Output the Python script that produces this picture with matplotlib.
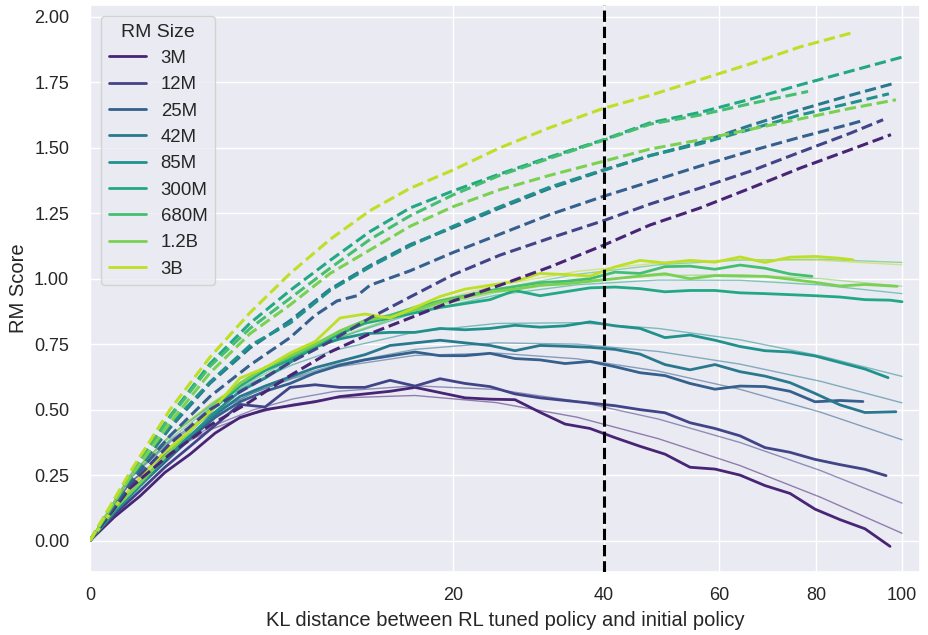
import numpy as np
import matplotlib
matplotlib.use("Agg")
import matplotlib.pyplot as plt
from matplotlib.lines import Line2D
from matplotlib.ticker import FormatStrFormatter
import seaborn as sns

sns.set_theme(style="darkgrid")
plt.rcParams["font.family"] = ["Liberation Sans", "DejaVu Sans"]

rm_sizes = ["3M", "12M", "25M", "42M", "85M", "300M", "680M", "1.2B", "3B"]

# ---------------- gold RM score (solid, noisy) ----------------
gold_kl_3m = [0, 0.09, 0.38, 0.85, 1.52, 2.37, 3.41, 4.65, 6.07, 7.68, 9.48, 11.47, 13.65, 16.02, 18.58, 21.33, 24.27, 27.39, 30.71, 34.22, 37.92, 41.80, 45.88, 50.14, 54.60, 59.24, 64.08, 69.10, 74.32, 79.72, 85.31, 91.09, 97.07]
gold_3m = [0, 0.09, 0.17, 0.26, 0.33, 0.41, 0.47, 0.50, 0.515, 0.53, 0.55, 0.56, 0.57, 0.585, 0.565, 0.545, 0.54, 0.538, 0.49, 0.445, 0.428, 0.393, 0.36, 0.33, 0.28, 0.273, 0.25, 0.21, 0.18, 0.12, 0.08, 0.045, -0.022]

gold_kl_12m = [0, 0.09, 0.38, 0.85, 1.52, 2.37, 3.41, 4.65, 6.07, 7.68, 9.48, 11.47, 13.65, 16.02, 18.58, 21.33, 24.27, 27.39, 30.71, 34.22, 37.92, 41.80, 45.88, 50.14, 54.60, 59.24, 64.08, 69.10, 74.32, 79.72, 85.31, 91.09, 96.1]
gold_12m = [0, 0.10, 0.19, 0.28, 0.36, 0.44, 0.52, 0.51, 0.585, 0.595, 0.585, 0.585, 0.612, 0.59, 0.618, 0.60, 0.588, 0.56, 0.545, 0.535, 0.525, 0.515, 0.50, 0.488, 0.45, 0.428, 0.40, 0.355, 0.337, 0.31, 0.29, 0.272, 0.248]

gold_kl_25m = [0, 0.09, 0.38, 0.85, 1.52, 2.37, 3.41, 4.65, 6.07, 7.68, 9.48, 11.47, 13.65, 16.02, 18.58, 21.33, 24.27, 27.39, 30.71, 34.22, 37.92, 41.80, 45.88, 50.14, 54.60, 59.24, 64.08, 69.10, 74.32, 79.72, 85.31, 90.6]
gold_25m = [0, 0.11, 0.21, 0.30, 0.39, 0.47, 0.53, 0.57, 0.60, 0.64, 0.67, 0.69, 0.705, 0.72, 0.706, 0.706, 0.715, 0.695, 0.69, 0.676, 0.684, 0.664, 0.641, 0.630, 0.60, 0.578, 0.59, 0.588, 0.57, 0.53, 0.535, 0.531]

gold_kl_42m = [0, 0.09, 0.38, 0.85, 1.52, 2.37, 3.41, 4.65, 6.07, 7.68, 9.48, 11.47, 13.65, 16.02, 18.58, 21.33, 24.27, 27.39, 30.71, 34.22, 37.92, 41.80, 45.88, 50.14, 54.60, 59.24, 64.08, 69.10, 74.32, 79.72, 85.31, 91.09, 98.5]
gold_42m = [0, 0.11, 0.21, 0.31, 0.40, 0.48, 0.55, 0.59, 0.625, 0.66, 0.685, 0.71, 0.745, 0.755, 0.765, 0.755, 0.745, 0.725, 0.745, 0.742, 0.738, 0.730, 0.712, 0.672, 0.652, 0.672, 0.645, 0.628, 0.603, 0.562, 0.518, 0.489, 0.492]

gold_kl_85m = [0, 0.09, 0.38, 0.85, 1.52, 2.37, 3.41, 4.65, 6.07, 7.68, 9.48, 11.47, 13.65, 16.02, 18.58, 21.33, 24.27, 27.39, 30.71, 34.22, 37.92, 41.80, 45.88, 50.14, 54.60, 59.24, 64.08, 69.10, 74.32, 79.72, 85.31, 91.09, 96.6]
gold_85m = [0, 0.11, 0.21, 0.31, 0.40, 0.49, 0.57, 0.62, 0.68, 0.74, 0.77, 0.79, 0.795, 0.795, 0.81, 0.805, 0.81, 0.822, 0.815, 0.82, 0.835, 0.82, 0.81, 0.775, 0.785, 0.765, 0.741, 0.725, 0.72, 0.705, 0.68, 0.655, 0.622]

gold_kl_300m = [0, 0.09, 0.38, 0.85, 1.52, 2.37, 3.41, 4.65, 6.07, 7.68, 9.48, 11.47, 13.65, 16.02, 18.58, 21.33, 24.27, 27.39, 30.71, 34.22, 37.92, 41.80, 45.88, 50.14, 54.60, 59.24, 64.08, 69.10, 74.32, 79.72, 85.31, 91.09, 97.07, 100.0]
gold_300m = [0, 0.12, 0.22, 0.32, 0.42, 0.51, 0.59, 0.65, 0.69, 0.74, 0.79, 0.83, 0.85, 0.87, 0.89, 0.905, 0.92, 0.955, 0.935, 0.95, 0.965, 0.968, 0.962, 0.95, 0.955, 0.955, 0.946, 0.943, 0.939, 0.935, 0.93, 0.92, 0.918, 0.912]

gold_kl_680m = [0, 0.09, 0.38, 0.85, 1.52, 2.37, 3.41, 4.65, 6.07, 7.68, 9.48, 11.47, 13.65, 16.02, 18.58, 21.33, 24.27, 27.39, 30.71, 34.22, 37.92, 41.80, 45.88, 50.14, 54.60, 59.24, 64.08, 69.10, 74.32, 79.06]
gold_680m = [0, 0.12, 0.22, 0.32, 0.42, 0.52, 0.60, 0.66, 0.70, 0.745, 0.80, 0.84, 0.86, 0.89, 0.915, 0.935, 0.955, 0.97, 0.985, 0.99, 1.0, 1.025, 1.02, 1.046, 1.048, 1.036, 1.052, 1.04, 1.018, 1.009]

gold_kl_1_2b = [0, 0.09, 0.38, 0.85, 1.52, 2.37, 3.41, 4.65, 6.07, 7.68, 9.48, 11.47, 13.65, 16.02, 18.58, 21.33, 24.27, 27.39, 30.71, 34.22, 37.92, 41.80, 45.88, 50.14, 54.60, 59.24, 64.08, 69.10, 74.32, 79.72, 85.31, 91.09, 98.8]
gold_1_2b = [0, 0.12, 0.22, 0.32, 0.42, 0.52, 0.60, 0.66, 0.705, 0.75, 0.80, 0.84, 0.855, 0.88, 0.91, 0.93, 0.95, 0.96, 0.975, 0.98, 0.99, 1.0, 1.01, 1.019, 1.0, 1.012, 1.01, 1.009, 0.998, 0.986, 0.972, 0.978, 0.971]

gold_kl_3b = [0, 0.09, 0.38, 0.85, 1.52, 2.37, 3.41, 4.65, 6.07, 7.68, 9.48, 11.47, 13.65, 16.02, 18.58, 21.33, 24.27, 27.39, 30.71, 34.22, 37.92, 41.80, 45.88, 50.14, 54.60, 59.24, 64.08, 69.10, 74.32, 79.72, 85.31, 88.3]
gold_3b = [0, 0.13, 0.24, 0.34, 0.42, 0.51, 0.62, 0.66, 0.716, 0.76, 0.85, 0.865, 0.85, 0.89, 0.932, 0.96, 0.975, 0.99, 1.02, 1.016, 1.01, 1.045, 1.07, 1.06, 1.07, 1.063, 1.083, 1.062, 1.082, 1.085, 1.078, 1.072]

# ---------------- proxy RM score (dashed) ----------------
proxy_kl_3m = [0, 0.24, 0.97, 2.18, 3.88, 6.07, 8.74, 11.89, 15.53, 19.99, 25.49, 32.09, 39.92, 47.56, 56.43, 66.07, 76.45, 87.60, 97.3]
proxy_3m = [0, 0.20, 0.33, 0.44, 0.53, 0.63, 0.72, 0.79, 0.85, 0.915, 0.975, 1.045, 1.127, 1.205, 1.27, 1.345, 1.422, 1.492, 1.55]

proxy_kl_12m = [0, 0.24, 0.97, 2.18, 3.88, 6.07, 8.74, 11.89, 15.53, 19.99, 25.49, 32.09, 39.92, 47.56, 56.43, 66.07, 76.45, 87.60, 95.4]
proxy_12m = [0, 0.21, 0.37, 0.50, 0.59, 0.68, 0.76, 0.85, 0.93, 1.015, 1.09, 1.155, 1.221, 1.285, 1.346, 1.41, 1.483, 1.555, 1.607]

proxy_kl_25m = [0, 0.24, 0.97, 2.18, 3.88, 6.07, 7.68, 9.25, 10.81, 11.89, 15.53, 19.99, 25.49, 32.09, 39.92, 47.56, 56.43, 66.07, 76.45, 87.60, 90.6]
proxy_25m = [0, 0.22, 0.40, 0.55, 0.67, 0.775, 0.86, 0.915, 0.935, 0.975, 1.03, 1.10, 1.17, 1.245, 1.314, 1.37, 1.43, 1.487, 1.54, 1.59, 1.604]

proxy_kl_42m = [0, 0.24, 0.97, 2.18, 3.88, 6.07, 8.74, 11.89, 15.53, 19.99, 25.49, 32.09, 39.92, 47.56, 56.43, 66.07, 76.45, 87.60, 98.3]
proxy_42m = [0, 0.23, 0.43, 0.60, 0.735, 0.84, 0.96, 1.05, 1.13, 1.195, 1.27, 1.345, 1.413, 1.47, 1.52, 1.585, 1.645, 1.70, 1.747]

proxy_kl_85m = [0, 0.24, 0.97, 2.18, 3.88, 6.07, 8.74, 11.89, 15.53, 19.99, 25.49, 32.09, 39.92, 47.56, 56.43, 66.07, 76.45, 87.60, 96.8]
proxy_85m = [0, 0.235, 0.44, 0.605, 0.745, 0.83, 0.955, 1.045, 1.125, 1.20, 1.275, 1.35, 1.415, 1.47, 1.515, 1.57, 1.625, 1.67, 1.706]

proxy_kl_300m = [0, 0.24, 0.97, 2.18, 3.88, 6.07, 8.74, 11.89, 15.53, 19.99, 25.49, 32.09, 39.92, 47.56, 56.43, 66.07, 76.45, 87.60, 100.0]
proxy_300m = [0, 0.25, 0.475, 0.675, 0.83, 0.955, 1.07, 1.18, 1.27, 1.335, 1.40, 1.465, 1.53, 1.595, 1.635, 1.685, 1.74, 1.792, 1.846]

proxy_kl_680m = [0, 0.24, 0.97, 2.18, 3.88, 6.07, 8.74, 11.89, 15.53, 19.99, 25.49, 32.09, 39.92, 47.56, 56.43, 66.07, 78.2]
proxy_680m = [0, 0.25, 0.47, 0.665, 0.81, 0.925, 1.04, 1.15, 1.24, 1.32, 1.395, 1.46, 1.528, 1.59, 1.625, 1.668, 1.715]

proxy_kl_1_2b = [0, 0.24, 0.97, 2.18, 3.88, 6.07, 8.74, 11.89, 15.53, 19.99, 25.49, 32.09, 39.92, 47.56, 56.43, 66.07, 76.45, 87.60, 98.5]
proxy_1_2b = [0, 0.24, 0.45, 0.64, 0.79, 0.90, 1.02, 1.11, 1.20, 1.275, 1.34, 1.395, 1.448, 1.495, 1.53, 1.57, 1.61, 1.65, 1.683]

proxy_kl_3b = [0, 0.24, 0.97, 2.18, 3.88, 6.07, 8.74, 11.89, 15.53, 19.99, 25.49, 32.09, 39.92, 47.56, 56.43, 66.07, 76.45, 88.3]
proxy_3b = [0, 0.26, 0.50, 0.70, 0.87, 1.02, 1.15, 1.26, 1.345, 1.415, 1.50, 1.577, 1.65, 1.70, 1.76, 1.82, 1.885, 1.94]

# ---------------- fitted gold curves (thin) ----------------
fit_kl = [0, 0.25, 1, 2.25, 4, 6.25, 9, 16, 25, 36, 49, 64, 81, 100]
fit_3m = [0, 0.223, 0.344, 0.426, 0.483, 0.521, 0.544, 0.554, 0.527, 0.471, 0.389, 0.287, 0.165, 0.028]
fit_12m = [0, 0.225, 0.350, 0.436, 0.498, 0.541, 0.569, 0.591, 0.577, 0.532, 0.464, 0.375, 0.267, 0.143]
fit_25m = [0, 0.245, 0.386, 0.487, 0.563, 0.619, 0.661, 0.707, 0.716, 0.694, 0.647, 0.578, 0.490, 0.385]
fit_42m = [0, 0.239, 0.379, 0.483, 0.562, 0.623, 0.670, 0.730, 0.755, 0.750, 0.722, 0.674, 0.608, 0.526]
fit_85m = [0, 0.254, 0.405, 0.517, 0.604, 0.672, 0.726, 0.796, 0.829, 0.832, 0.810, 0.767, 0.705, 0.627]
fit_300m = [0, 0.248, 0.403, 0.523, 0.621, 0.701, 0.768, 0.869, 0.937, 0.977, 0.995, 0.994, 0.976, 0.943]
fit_680m = [0, 0.239, 0.391, 0.512, 0.611, 0.695, 0.766, 0.879, 0.960, 1.017, 1.053, 1.071, 1.074, 1.062]
fit_1_2b = [0, 0.248, 0.404, 0.525, 0.623, 0.704, 0.772, 0.877, 0.947, 0.991, 1.012, 1.015, 1.000, 0.971]
fit_3b = [0, 0.246, 0.403, 0.526, 0.627, 0.711, 0.783, 0.895, 0.974, 1.028, 1.060, 1.073, 1.070, 1.053]

x_ticks = [0, 20, 40, 60, 80, 100]
y_ticks = [0.0, 0.25, 0.5, 0.75, 1.0, 1.25, 1.5, 1.75, 2.0]
kl_marker = 40

gold_x = [gold_kl_3m, gold_kl_12m, gold_kl_25m, gold_kl_42m, gold_kl_85m, gold_kl_300m, gold_kl_680m, gold_kl_1_2b, gold_kl_3b]
gold_y = [gold_3m, gold_12m, gold_25m, gold_42m, gold_85m, gold_300m, gold_680m, gold_1_2b, gold_3b]
proxy_x = [proxy_kl_3m, proxy_kl_12m, proxy_kl_25m, proxy_kl_42m, proxy_kl_85m, proxy_kl_300m, proxy_kl_680m, proxy_kl_1_2b, proxy_kl_3b]
proxy_y = [proxy_3m, proxy_12m, proxy_25m, proxy_42m, proxy_85m, proxy_300m, proxy_680m, proxy_1_2b, proxy_3b]
fit_y = [fit_3m, fit_12m, fit_25m, fit_42m, fit_85m, fit_300m, fit_680m, fit_1_2b, fit_3b]

colors = sns.color_palette("viridis", len(rm_sizes))

fig = plt.figure(figsize=(9.29, 6.35), dpi=100)
ax = fig.add_axes([0.0969, 0.0992, 0.8935, 0.8929])


def fwd(x):
    return np.sqrt(np.maximum(x, 0))


def inv(x):
    return np.square(x)


ax.set_xscale("function", functions=(fwd, inv))

for i, name in enumerate(rm_sizes):
    c = colors[i]
    ax.plot(fit_kl, fit_y[i], color=c, lw=1.0, alpha=0.55, zorder=2)
    ax.plot(gold_x[i], gold_y[i], color=c, lw=2.0, zorder=3)
    ax.plot(proxy_x[i], proxy_y[i], color=c, lw=2.2, ls="--", zorder=4)

ax.axvline(kl_marker, color="black", ls="--", lw=2.2, zorder=5)

ax.set_xlim(0, 104.5)
ax.set_ylim(-0.12, 2.045)
ax.set_xticks(x_ticks)
ax.set_yticks(y_ticks)
ax.minorticks_off()
ax.yaxis.set_major_formatter(FormatStrFormatter("%.2f"))
ax.tick_params(axis="y", labelsize=13, pad=9)
ax.tick_params(axis="x", labelsize=13, pad=5)
ax.set_xlabel("KL distance between RL tuned policy and initial policy", fontsize=14.5, labelpad=5)
ax.set_ylabel("RM Score", fontsize=14.5, labelpad=4)

handles = [Line2D([0], [0], color=colors[i], lw=2.0) for i in range(len(rm_sizes))]
ax.legend(handles, rm_sizes, title="RM Size", loc="upper left", fontsize=13.4,
          title_fontsize=14, labelspacing=0.5, borderaxespad=0.6)

fig.savefig("out.png", dpi=100)
